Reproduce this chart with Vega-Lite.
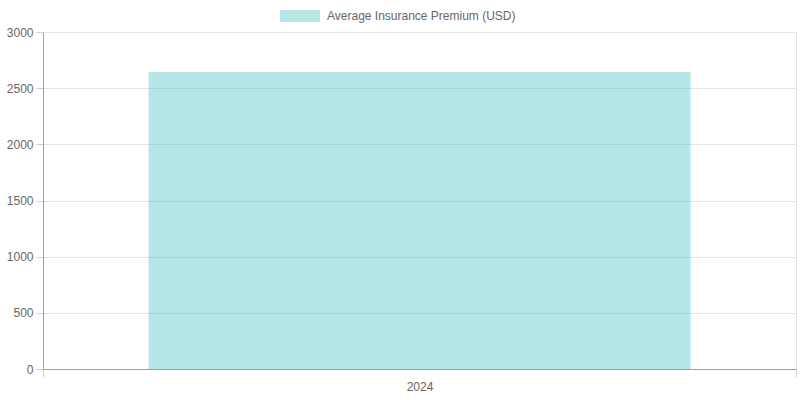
{
  "$schema": "https://vega.github.io/schema/vega-lite/v6.json",
  "width": 800,
  "height": 400,
  "autosize": {"type": "fit", "contains": "padding"},
  "padding": {"left": 6, "right": 3, "top": 26, "bottom": 8},
  "background": "white",
  "config": {
    "font": "Liberation Sans",
    "view": {"stroke": null}
  },
  "data": {
    "values": [
      {"year": "2024", "premium": 2645, "series": "Average Insurance Premium (USD)"}
    ]
  },
  "mark": {"type": "bar", "width": {"band": 0.72}},
  "encoding": {
    "x": {
      "field": "year",
      "type": "nominal",
      "title": null,
      "scale": {"paddingInner": 0, "paddingOuter": 0},
      "axis": {
        "labelAngle": 0,
        "labelColor": "#666666",
        "labelFontSize": 12,
        "labelPadding": 4,
        "domainColor": "#a0a0a0",
        "tickBand": "extent",
        "tickColor": "#d0d0d0",
        "tickSize": 8,
        "grid": true,
        "gridColor": "#e5e5e5"
      }
    },
    "y": {
      "field": "premium",
      "type": "quantitative",
      "title": null,
      "scale": {"domain": [0, 3000], "nice": false},
      "axis": {
        "values": [0, 500, 1000, 1500, 2000, 2500, 3000],
        "format": "d",
        "labelColor": "#666666",
        "labelFontSize": 12,
        "labelPadding": 3,
        "domainColor": "#a0a0a0",
        "tickColor": "#d0d0d0",
        "tickSize": 7,
        "gridColor": "#e5e5e5"
      }
    },
    "color": {
      "field": "series",
      "type": "nominal",
      "scale": {"range": ["rgba(75,192,192,0.4)"]},
      "legend": {
        "title": null,
        "orient": "none",
        "legendX": 237,
        "legendY": -22,
        "symbolType": "M-1,-1H5.67V1H-1Z",
        "symbolSize": 144,
        "symbolOpacity": 1,
        "symbolStrokeWidth": 0,
        "labelOffset": 35,
        "labelLimit": 400,
        "labelColor": "#666666",
        "labelFontSize": 12
      }
    }
  }
}
